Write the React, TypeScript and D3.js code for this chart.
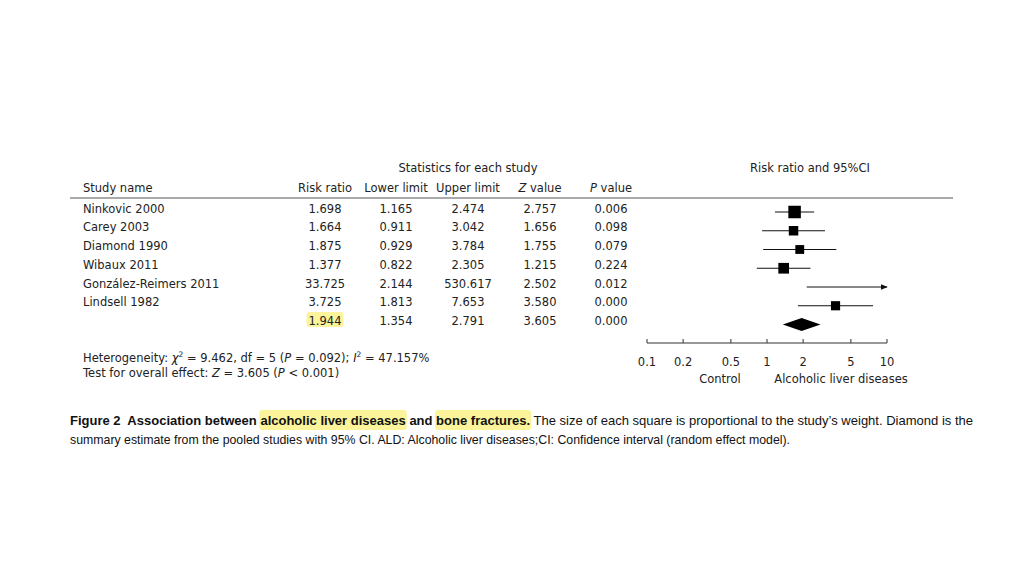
import React, { useLayoutEffect, useRef, useState } from "react";
import * as d3 from "d3";

// study-level values
const studies = [
  "Ninkovic 2000",
  "Carey 2003",
  "Diamond 1990",
  "Wibaux 2011",
  "González-Reimers 2011",
  "Lindsell 1982",
];
const riskRatio = [1.698, 1.664, 1.875, 1.377, 33.725, 3.725];
const lowerLimit = [1.165, 0.911, 0.929, 0.822, 2.144, 1.813];
const upperLimit = [2.474, 3.042, 3.784, 2.305, 530.617, 7.653];
const zValue = [2.757, 1.656, 1.755, 1.215, 2.502, 3.58];
const pValue = [0.006, 0.098, 0.079, 0.224, 0.012, 0.0];
// relative weights (estimated from square sizes)
const weights = [26, 15, 13, 19, 3, 14];

// pooled estimate
const pooled = { rr: 1.944, lower: 1.354, upper: 2.791, z: 3.605, p: 0.0 };

const axisTicks = [0.1, 0.2, 0.5, 1, 2, 5, 10];

const FONT = "'DejaVu Sans', Verdana, sans-serif";
const CAP_FONT = "'Liberation Sans Narrow', 'Liberation Sans', Arial, sans-serif";
const INK = "#222";
const HILITE = "#fbf49a";

const cap1Bold = "Figure 2  Association between alcoholic liver diseases and bone fractures.";
const cap1Rest = " The size of each square is proportional to the study’s weight. Diamond is the";
const cap2 =
  "summary estimate from the pooled studies with 95% CI. ALD: Alcoholic liver diseases;CI: Confidence interval (random effect model).";
const highlights = ["alcoholic liver diseases", "bone fractures."];

export default function App() {
  const x = d3.scaleLog().domain([0.1, 10]).range([647, 887]);
  const rowKeys = [...studies, "Overall"];
  const y = d3.scalePoint<string>().domain(rowKeys).range([212, 324.5]);
  const side = d3
    .scaleSqrt()
    .domain([0, d3.max(weights) as number])
    .range([0, 12.5]);

  const fmt = d3.format(".3f");
  const cols = [
    { key: "Risk ratio", x: 325, vals: riskRatio, pooled: pooled.rr },
    { key: "Lower limit", x: 396, vals: lowerLimit, pooled: pooled.lower },
    { key: "Upper limit", x: 468, vals: upperLimit, pooled: pooled.upper },
    { key: "Z", x: 540, vals: zValue, pooled: pooled.z },
    { key: "P", x: 611, vals: pValue, pooled: pooled.p },
  ];

  const capRef = useRef<SVGTextElement>(null);
  const rrRef = useRef<SVGTextElement>(null);
  const [hl, setHl] = useState<{ x: number; w: number }[]>([]);
  const [rrBox, setRrBox] = useState<{ x: number; w: number } | null>(null);

  useLayoutEffect(() => {
    const el = capRef.current;
    if (el) {
      const full = cap1Bold + cap1Rest;
      const boxes = highlights.map((h) => {
        const i0 = full.indexOf(h);
        const i1 = i0 + h.length - 1;
        const a = el.getExtentOfChar(i0);
        const b = el.getExtentOfChar(i1);
        return { x: a.x, w: b.x + b.width - a.x };
      });
      setHl(boxes);
    }
    if (rrRef.current) {
      const bb = rrRef.current.getBBox();
      setRrBox({ x: bb.x, w: bb.width });
    }
  }, []);

  const yOver = y("Overall") as number;
  const dh = 6.5;

  return (
    <svg
      width={1024}
      height={576}
      style={{ position: "absolute", left: 0, top: 0, background: "#fff" }}
      fontFamily={FONT}
      fontSize={11.5}
      fill={INK}
    >
      <defs>
        <marker
          id="arr"
          viewBox="0 0 10 10"
          refX={9}
          refY={5}
          markerWidth={7}
          markerHeight={7}
          markerUnits="userSpaceOnUse"
          orient="auto"
        >
          <path d="M0,1 L10,5 L0,9 Z" fill="#111" />
        </marker>
      </defs>

      {/* headers */}
      <text x={468} y={172} textAnchor="middle">
        Statistics for each study
      </text>
      <text x={810} y={172} textAnchor="middle">
        Risk ratio and 95%CI
      </text>
      <text x={83} y={192}>
        Study name
      </text>
      {cols.map((c) => (
        <text key={c.key} x={c.x} y={192} textAnchor="middle">
          {c.key === "Z" || c.key === "P" ? (
            <>
              <tspan fontStyle="italic">{c.key}</tspan> value
            </>
          ) : (
            c.key
          )}
        </text>
      ))}
      <line x1={70} x2={953} y1={198} y2={198} stroke="#555" strokeWidth={1} />

      {/* table rows */}
      {studies.map((s, i) => {
        const yy = (y(s) as number) + 0.5;
        return (
          <g key={s}>
            <text x={83} y={yy}>
              {s}
            </text>
            {cols.map((c) => (
              <text key={c.key} x={c.x} y={yy} textAnchor="middle">
                {fmt(c.vals[i])}
              </text>
            ))}
          </g>
        );
      })}
      {rrBox && (
        <rect
          x={rrBox.x - 2}
          y={yOver - 12.5}
          width={rrBox.w + 4}
          height={15}
          rx={3}
          fill={HILITE}
        />
      )}
      {cols.map((c, j) => (
        <text
          key={c.key}
          ref={j === 0 ? rrRef : undefined}
          x={c.x}
          y={yOver + 0.5}
          textAnchor="middle"
        >
          {fmt(c.pooled)}
        </text>
      ))}

      {/* forest plot */}
      {studies.map((s, i) => {
        const yy = y(s) as number;
        const lo = Math.max(lowerLimit[i], 0.1);
        const hi = Math.min(upperLimit[i], 10);
        const clipped = upperLimit[i] > 10;
        const inRange = riskRatio[i] <= 10;
        const w = side(weights[i]);
        return (
          <g key={s}>
            <line
              x1={x(lo)}
              x2={x(hi)}
              y1={yy}
              y2={yy}
              stroke="#111"
              strokeWidth={1}
              markerEnd={clipped ? "url(#arr)" : undefined}
            />
            {inRange && (
              <rect
                x={x(riskRatio[i]) - w / 2}
                y={yy - w / 2}
                width={w}
                height={w}
                fill="#000"
              />
            )}
          </g>
        );
      })}
      <path
        d={`M${x(pooled.lower)},${yOver} L${x(pooled.rr)},${yOver - dh} L${x(
          pooled.upper
        )},${yOver} L${x(pooled.rr)},${yOver + dh} Z`}
        fill="#000"
      />

      {/* axis */}
      <line x1={x(0.1)} x2={x(10)} y1={343} y2={343} stroke="#333" strokeWidth={1} />
      {axisTicks.map((t) => (
        <g key={t}>
          <line x1={x(t)} x2={x(t)} y1={339} y2={343} stroke="#333" strokeWidth={1} />
          <text x={x(t)} y={366} textAnchor="middle">
            {t}
          </text>
        </g>
      ))}
      <text x={720} y={383} textAnchor="middle">
        Control
      </text>
      <text x={841} y={383} textAnchor="middle">
        Alcoholic liver diseases
      </text>

      {/* heterogeneity */}
      <text x={83} y={362}>
        Heterogeneity: <tspan fontStyle="italic">χ</tspan>
        <tspan dy={-5} fontSize={7.5}>
          2
        </tspan>
        <tspan dy={5}> = 9.462, df = 5 (</tspan>
        <tspan fontStyle="italic">P</tspan> = 0.092);{" "}
        <tspan fontStyle="italic">I</tspan>
        <tspan dy={-5} fontSize={7.5}>
          2
        </tspan>
        <tspan dy={5}> = 47.157%</tspan>
      </text>
      <text x={83} y={377}>
        Test for overall effect: <tspan fontStyle="italic">Z</tspan> = 3.605 (
        <tspan fontStyle="italic">P</tspan> &lt; 0.001)
      </text>

      {/* caption */}
      {hl.map((b, i) => (
        <rect key={i} x={b.x - 1} y={410} width={b.w + 2} height={20} rx={3} fill={HILITE} />
      ))}
      <text
        ref={capRef}
        x={70}
        y={424.5}
        fontFamily={CAP_FONT}
        fontSize={13.5}
        fill="#111"
        textLength={903}
        lengthAdjust="spacingAndGlyphs"
        style={{ whiteSpace: "pre" }}
      >
        <tspan fontWeight="bold">{cap1Bold}</tspan>
        <tspan>{cap1Rest}</tspan>
      </text>
      <text
        x={70}
        y={443.5}
        fontFamily={CAP_FONT}
        fontSize={13.5}
        fill="#111"
        textLength={720}
        lengthAdjust="spacingAndGlyphs"
      >
        {cap2}
      </text>
    </svg>
  );
}
